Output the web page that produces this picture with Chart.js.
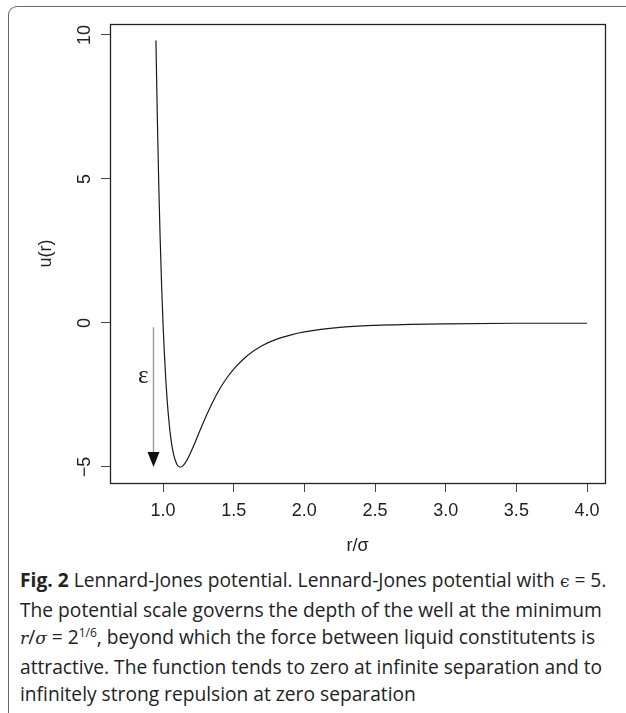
<!DOCTYPE html>
<html>
<head>
<meta charset="utf-8">
<script src="https://cdn.jsdelivr.net/npm/chart.js@4.4.1/dist/chart.umd.min.js"></script>
<style>
  html, body { margin: 0; padding: 0; background: #fff; }
  body { width: 626px; height: 713px; position: relative; overflow: hidden; }
  #frame {
    position: absolute; left: 8px; top: 6px; width: 660px; height: 760px;
    border-top: 1.5px solid #666; border-left: 1.5px solid #666;
    border-top-left-radius: 9px;
  }
  #plot { position: absolute; left: 0; top: 0; }
  #caption {
    position: absolute; left: 20px; top: 566px;
    font-family: 'Open Sans', sans-serif; font-size: 19.2px; line-height: 27.5px;
    color: #222; white-space: nowrap;
  }
  #caption b { font-weight: 700; }
  #caption .m { font-family: 'DejaVu Serif', serif; font-size: 17px; }
  #caption sup { font-size: 12px; line-height: 0; }
</style>
</head>
<body>
<div id="frame"></div>
<canvas id="plot" width="626" height="565"></canvas>
<div id="caption">
  <div><b>Fig. 2</b> Lennard-Jones potential. Lennard-Jones potential with <span class="m">&#x3F5;</span> = 5.</div>
  <div>The potential scale governs the depth of the well at the minimum</div>
  <div><i class="m">r</i>/<i class="m">&sigma;</i> = 2<sup>1/6</sup>, beyond which the force between liquid constitutents is</div>
  <div>attractive. The function tends to zero at infinite separation and to</div>
  <div>infinitely strong repulsion at zero separation</div>
</div>
<script>
// Lennard-Jones potential, epsilon = 5, sigma = 1
const rVals = [0.95, 0.96, 0.97, 0.98, 0.99, 1.00, 1.01, 1.02, 1.03, 1.04, 1.05, 1.06, 1.07, 1.08,
  1.09, 1.10, 1.11, 1.12, 1.13, 1.14, 1.16, 1.18, 1.20, 1.22, 1.25, 1.30, 1.35, 1.40, 1.45, 1.50,
  1.60, 1.70, 1.80, 1.90, 2.00, 2.25, 2.50, 2.75, 3.00, 3.50, 4.00];
const uVals = [9.81, 7.09, 4.81, 2.91, 1.32, 0.00, -1.09, -1.99, -2.72, -3.31, -3.79, -4.16, -4.45, -4.66,
  -4.81, -4.92, -4.98, -5.00, -4.99, -4.96, -4.84, -4.66, -4.45, -4.23, -3.87, -3.29, -2.76, -2.30, -1.92, -1.60,
  -1.12, -0.79, -0.57, -0.42, -0.31, -0.15, -0.08, -0.05, -0.03, -0.01, -0.01];

const xTicks = [1.0, 1.5, 2.0, 2.5, 3.0, 3.5, 4.0];
const yTicks = [-5, 0, 5, 10];
const yTickLabels = ['\u22125', '0', '5', '10'];

// well depth arrow and its label
const depth = 5;
const arrowR = 0.93;
const arrowTop = -0.15;
const epsLabel = { r: 0.86, u: -1.85, text: '\u03B5' };

const sansFont = { family: 'Liberation Sans', size: 18 };
const ink = '#222';

// box, rotated y labels, arrow and epsilon
const extras = {
  id: 'extras',
  afterDraw(chart) {
    const { ctx, chartArea: a, scales: { x, y } } = chart;
    ctx.save();

    ctx.strokeStyle = ink;
    ctx.lineWidth = 1.3;
    ctx.strokeRect(Math.round(a.left) + 0.5, Math.round(a.top) + 0.5,
      Math.round(a.right - a.left), Math.round(a.bottom - a.top));

    ctx.fillStyle = ink;
    ctx.font = '18px "Liberation Sans"';
    ctx.textAlign = 'center';
    ctx.textBaseline = 'alphabetic';
    yTicks.forEach((v, i) => {
      ctx.save();
      ctx.translate(90, y.getPixelForValue(v));
      ctx.rotate(-Math.PI / 2);
      ctx.fillText(yTickLabels[i], 0, 0);
      ctx.restore();
    });

    const ax = Math.round(x.getPixelForValue(arrowR)) + 0.5;
    const yTop = y.getPixelForValue(arrowTop);
    const yTip = y.getPixelForValue(-depth);
    ctx.strokeStyle = '#9a9a9a';
    ctx.lineWidth = 1.4;
    ctx.beginPath();
    ctx.moveTo(ax, yTop);
    ctx.lineTo(ax, yTip - 14);
    ctx.stroke();
    ctx.fillStyle = '#111';
    ctx.beginPath();
    ctx.moveTo(ax - 6, yTip - 15);
    ctx.lineTo(ax + 6, yTip - 15);
    ctx.lineTo(ax, yTip);
    ctx.closePath();
    ctx.fill();

    ctx.fillStyle = ink;
    ctx.font = '25px "Liberation Serif"';
    ctx.textBaseline = 'middle';
    ctx.fillText(epsLabel.text, x.getPixelForValue(epsLabel.r), y.getPixelForValue(epsLabel.u));

    ctx.restore();
  }
};

new Chart(document.getElementById('plot'), {
  type: 'scatter',
  data: {
    datasets: [{
      data: rVals.map((r, i) => ({ x: r, y: uVals[i] })),
      showLine: true,
      borderColor: '#1a1a1a',
      borderWidth: 1.2,
      pointRadius: 0,
      cubicInterpolationMode: 'monotone'
    }]
  },
  options: {
    responsive: false,
    animation: false,
    layout: { padding: { left: 0, top: 24, right: 21, bottom: 0 } },
    plugins: { legend: { display: false }, tooltip: { enabled: false } },
    scales: {
      x: {
        type: 'linear',
        position: 'bottom',
        min: 0.625,
        max: 4.127,
        afterBuildTicks: s => { s.ticks = xTicks.map(v => ({ value: v })); },
        afterFit: s => { s.height = 82; },
        grid: { drawOnChartArea: false, drawTicks: true, tickLength: 9, color: '#444', lineWidth: 1 },
        border: { display: false },
        ticks: {
          color: ink, font: sansFont, padding: 8, maxRotation: 0, autoSkip: false,
          callback: v => v.toFixed(1)
        },
        title: { display: true, text: 'r/\u03C3', color: ink, font: sansFont, padding: { top: 0, bottom: 8 } }
      },
      y: {
        type: 'linear',
        min: -5.556,
        max: 10.38,
        afterBuildTicks: s => { s.ticks = yTicks.map(v => ({ value: v })); },
        afterFit: s => { s.width = 110; },
        grid: { drawOnChartArea: false, drawTicks: true, tickLength: 9, color: '#444', lineWidth: 1 },
        border: { display: false },
        ticks: { display: false },
        title: { display: true, text: 'u(r)', color: ink, font: sansFont, padding: { top: 35, bottom: 0 } }
      }
    }
  },
  plugins: [extras]
});
</script>
</body>
</html>
